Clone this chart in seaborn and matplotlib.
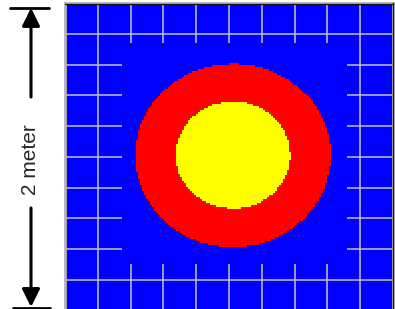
import numpy as np
import pandas as pd
import matplotlib
matplotlib.use("Agg")
import matplotlib.pyplot as plt
from matplotlib.colors import ListedColormap
import seaborn as sns

# ---- data (meters) ----
domain = [-1.0, 1.0]                 # 2 meter square domain
grid_step = 0.2                      # grid spacing
center_x, center_y = 0.025, 0.01     # center of the circular regions
radius_red = 0.60                    # outer (red) radius
radius_yellow = 0.35                 # inner (yellow) radius
inner_x = [-0.652, 0.72]             # grid-free inner window (x)
inner_y = [-0.70, 0.739]             # grid-free inner window (y)
region_colors = ["#0000ff", "#ff0000", "#ffff00"]  # background, ring, core
scale_label = "2 meter"

sns.set_style("white")
plt.rcParams["font.family"] = ["Liberation Sans", "DejaVu Sans"]

W, H = 395, 309
fig = plt.figure(figsize=(W / 100, H / 100), dpi=100)
ax = fig.add_axes([65 / W, -1.5 / H, 328 / W, 307.5 / H])
ax.set_facecolor(region_colors[0])
ax.set_xlim(domain)
ax.set_ylim(domain)
ticks = np.arange(domain[0], domain[1] + 1e-9, grid_step)
ax.set_xticks(ticks)
ax.set_yticks(ticks)
ax.tick_params(length=0, labelbottom=False, labelleft=False)
ax.grid(True, color="#bdbdbd", lw=1.15)
for s in ax.spines.values():
    s.set_color("#b4b4b4")
    s.set_linewidth(2.0)
# dark inner edge on top and right
ax.plot([0, 1], [0.9975, 0.9975], transform=ax.transAxes, color="#101010", lw=0.9, clip_on=False, zorder=6)
ax.plot([0.9985, 0.9985], [0, 1], transform=ax.transAxes, color="#101010", lw=0.9, clip_on=False, zorder=6)

# ---- field in the inner window ----
N = 112
xs = np.linspace(inner_x[0], inner_x[1], N)
ys = np.linspace(inner_y[1], inner_y[0], N)
XX, YY = np.meshgrid(xs, ys)
RR = np.hypot(XX - center_x, YY - center_y)
field = np.where(RR <= radius_yellow, 2, np.where(RR <= radius_red, 1, 0))
df = pd.DataFrame(field)

iax = ax.inset_axes([inner_x[0], inner_y[0], inner_x[1] - inner_x[0], inner_y[1] - inner_y[0]],
                    transform=ax.transData)
sns.heatmap(df, ax=iax, cmap=ListedColormap(region_colors), vmin=-0.5, vmax=2.5,
            cbar=False, xticklabels=False, yticklabels=False, rasterized=True)
iax.set_xlabel("")
iax.set_ylabel("")
for s in iax.spines.values():
    s.set_visible(False)

# ---- scale annotation ----
def fy(py):
    return 1 - py / H

xa = 31 / W
arrow_kw = dict(arrowstyle="-|>,head_length=10.8,head_width=5.4", color="black",
                lw=2.2, shrinkA=0, shrinkB=0, mutation_scale=1)
fig.add_artist(matplotlib.patches.FancyArrowPatch((xa, fy(97)), (xa, fy(8)),
               transform=fig.transFigure, **arrow_kw))
fig.add_artist(matplotlib.patches.FancyArrowPatch((xa, fy(208)), (xa, fy(307)),
               transform=fig.transFigure, **arrow_kw))
fig.add_artist(matplotlib.lines.Line2D([10 / W, 49 / W], [fy(8), fy(8)],
               transform=fig.transFigure, color="black", lw=2.0))
fig.add_artist(matplotlib.lines.Line2D([13 / W, 50 / W], [fy(307.5), fy(307.5)],
               transform=fig.transFigure, color="black", lw=2.0))
fig.text(xa - 1 / W, fy(160), scale_label, rotation=90, ha="center", va="center", fontsize=15)

fig.savefig("out.png", dpi=100)
